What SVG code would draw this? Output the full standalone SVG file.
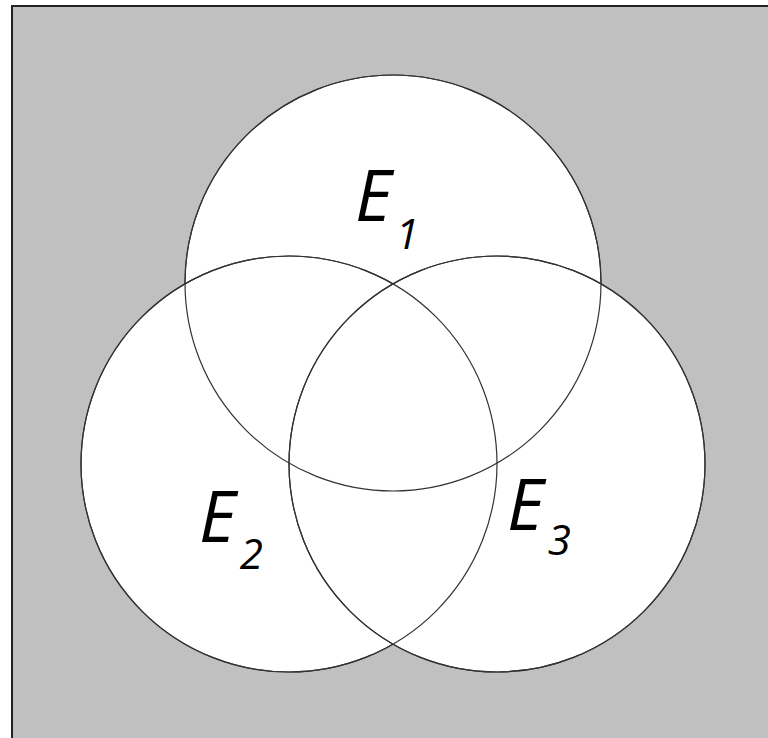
<svg xmlns="http://www.w3.org/2000/svg" width="768" height="738" viewBox="0 0 768 738">
<style>
.c{fill:#fff;stroke:#333;stroke-width:1.2}
.o{fill:none;stroke:#333;stroke-width:1.2}
.t{font-family:"Open Sans","Liberation Sans",sans-serif;font-style:italic;fill:#000}
.m{font-size:71px}
.s{font-size:42px}
</style>
<rect x="0" y="0" width="768" height="738" fill="#fff"/>
<rect x="12" y="6" width="760" height="740" fill="#c0c0c0" stroke="#222" stroke-width="2"/>
<g id="E1"><circle class="c" cx="393" cy="283" r="208"/></g>
<g id="E2"><circle class="c" cx="289" cy="464" r="208"/></g>
<g id="E3"><circle class="c" cx="497" cy="464" r="208"/></g>
<g id="outlines">
<circle class="o" cx="393" cy="283" r="208"/>
<circle class="o" cx="289" cy="464" r="208"/>
<circle class="o" cx="497" cy="464" r="208"/>
</g>
<g id="labels">
<text class="t" x="355" y="221"><tspan class="m">E</tspan><tspan class="s" dx="4" dy="28">1</tspan></text>
<text class="t" x="199" y="542"><tspan class="m">E</tspan><tspan class="s" dx="4" dy="27">2</tspan></text>
<text class="t" x="507" y="530"><tspan class="m">E</tspan><tspan class="s" dx="4" dy="25">3</tspan></text>
</g>
</svg>
